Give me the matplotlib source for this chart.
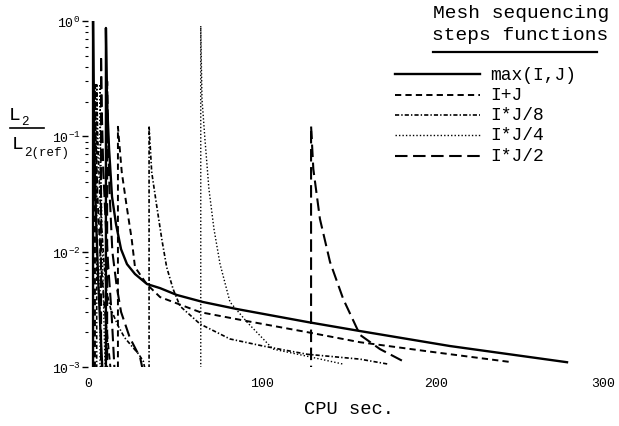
import matplotlib
matplotlib.use('Agg')
import matplotlib.pyplot as plt
from matplotlib.lines import Line2D
from matplotlib.ticker import FixedLocator, FixedFormatter, NullFormatter
import matplotlib.transforms as mtransforms

# ---------------- data (CPU sec, L2/L2(ref)); each series = list of mesh-sequencing segments
maxij_x = [[2.9, 2.9, 3.2, 3.8, 4.6, 5.8, 7.2, 8.5],
           [10.3, 10.3, 10.9, 12.1, 13.8, 16.1, 19.0, 22.4, 27.0, 33.9, 41.4, 51.1,
            66.1, 85.6, 126.4, 156.3, 208.0, 275.3]]
maxij_y = [[8e-4, 1.0, 0.25, 0.06, 0.02, 0.006, 0.002, 8e-4],
           [8e-4, 0.87, 0.21, 0.078, 0.030, 0.0173, 0.0105, 0.0078, 0.0064, 0.00524,
            0.00483, 0.00421, 0.00366, 0.00318, 0.00245, 0.00205, 0.00152, 0.0011]]

ipj_x = [[4.0, 4.0, 4.5, 5.5, 7.0, 9.0, 11.5, 13.5],
         [17.2, 17.2, 19.4, 22.2, 25.1, 27.0, 33.7, 41.4, 64.4, 91.4, 126.4, 156.3,
          194.8, 243.7]]
ipj_y = [[8e-4, 0.28, 0.09, 0.03, 0.01, 0.004, 0.0016, 8e-4],
         [8e-4, 0.121, 0.049, 0.0249, 0.01286, 0.00735, 0.00524, 0.00404, 0.00299,
          0.0025, 0.0020, 0.00164, 0.00137, 0.0011]]

ij8_x = [[5.0, 5.0, 5.6, 6.5, 7.8, 9.2, 10.7, 13.0, 17.4, 21.0, 25.1, 29.0, 31.8, 33.9],
         [35.1, 35.1, 36.6, 39.5, 42.4, 45.2, 48.9, 52.9, 64.4, 81.6, 100.6, 125.9,
          156.3, 172.4]]
ij8_y = [[8e-4, 0.28, 0.10, 0.04, 0.017, 0.008, 0.0045, 0.0032, 0.00226, 0.0018,
          0.00152, 0.0013, 0.00112, 8e-4],
         [8e-4, 0.123, 0.049, 0.0249, 0.01286, 0.00735, 0.00474, 0.00337, 0.00236,
          0.00175, 0.00152, 0.00129, 0.00117, 0.00106]]

ij4_x = [[6.9, 6.9, 7.2, 7.6, 8.0, 8.6, 9.3, 10.0],
         [64.8, 64.8, 65.1, 65.5, 67.2, 69.5, 72.4, 75.9, 81.6, 91.4, 106.3, 125.9, 146.6]]
ij4_y = [[8e-4, 0.284, 0.10, 0.04, 0.015, 0.006, 0.002, 8e-4],
         [8e-4, 0.905, 0.468, 0.211, 0.0948, 0.0349, 0.0157, 0.0078, 0.00366,
          0.00245, 0.00143, 0.00124, 0.00106]]

ij2_x = [[7.5, 7.5, 8.0, 8.8, 10.0, 11.5, 13.5, 15.5],
         [11.0, 11.0, 11.5, 12.5, 14.0, 16.5, 19.0, 24.0, 30.0, 32.5],
         [128.2, 128.2, 129.5, 133.3, 139.1, 146.7, 156.3, 167.8, 182.2]]
ij2_y = [[8e-4, 0.5, 0.15, 0.05, 0.02, 0.008, 0.003, 8e-4],
         [8e-4, 0.30, 0.10, 0.03, 0.01, 0.005, 0.003, 0.0018, 0.0012, 8e-4],
         [8e-4, 0.123, 0.052, 0.0192, 0.00813, 0.00388, 0.0019, 0.00143, 0.0011]]

labels = ['max(I,J)', 'I+J', 'I*J/8', 'I*J/4', 'I*J/2']
x_ticks = [0, 100, 200, 300]
x_ticklabels = ['0', '100', '200', '300']
y_ticks = [1e-3, 1e-2, 1e-1, 1e0]
y_ticklabels = [r'$10^{-3}$', r'$10^{-2}$', r'$10^{-1}$', r'$10^{0}$']

# ---------------- style
plt.rcParams['font.family'] = ['Liberation Mono', 'DejaVu Sans Mono']
plt.rcParams['mathtext.fontset'] = 'custom'
plt.rcParams['mathtext.rm'] = 'Liberation Mono'
plt.rcParams['mathtext.it'] = 'Liberation Mono'
plt.rcParams['lines.scale_dashes'] = False

W, H = 619, 427
fig = plt.figure(figsize=(W / 100, H / 100), dpi=100)
ax = fig.add_axes([88 / W, 1 - 368 / H, (610 - 88) / W, (368 - 22) / H])

styles = [
    dict(color='black', lw=1.7, ls='-'),
    dict(color='black', lw=1.4, ls=(0, (4.5, 3))),
    dict(color='black', lw=1.2, ls=(0, (3, 1.5, 1, 1.5))),
    dict(color='black', lw=1.0, ls=(0, (1, 1.5))),
    dict(color='black', lw=1.5, ls=(0, (9, 4))),
]
series = [(maxij_x, maxij_y), (ipj_x, ipj_y), (ij8_x, ij8_y), (ij4_x, ij4_y), (ij2_x, ij2_y)]

for (xs, ys), st in zip(series, styles):
    for sx, sy in zip(xs, ys):
        ax.plot(sx, sy, **st)

ax.set_yscale('log')
ax.set_xlim(0, 300)
ax.set_ylim(1e-3, 1.0)
for s in ax.spines.values():
    s.set_visible(False)

ax.yaxis.set_major_locator(FixedLocator(y_ticks))
ax.yaxis.set_major_formatter(FixedFormatter(y_ticklabels))
ax.yaxis.set_minor_formatter(NullFormatter())
ax.tick_params(axis='y', which='major', length=4, width=1.0, pad=1.5, labelsize=9.5, direction='out')
ax.tick_params(axis='y', which='minor', length=2, width=0.8, direction='out')
ax.xaxis.set_major_locator(FixedLocator(x_ticks))
ax.xaxis.set_major_formatter(FixedFormatter(x_ticklabels))
ax.tick_params(axis='x', which='both', length=0, pad=7, labelsize=9.5)

# keep the last x label inside the figure (it sits at the right edge)
fig.canvas.draw()
last = ax.get_xticklabels()[-1]
last.set_transform(last.get_transform() + mtransforms.ScaledTranslation(-7 / 100, 0, fig.dpi_scale_trans))

ax.set_xlabel('CPU sec.', fontsize=13.5, labelpad=8)

# y label as a fraction
def fx(px):
    return px / W

def fy(py):
    return 1 - py / H

fig.text(fx(9), fy(120), 'L', fontsize=14, va='baseline', ha='left')
fig.text(fx(21), fy(125), '2', fontsize=9, va='baseline', ha='left')
fig.add_artist(Line2D([fx(10), fx(44)], [fy(129), fy(129)], color='black', lw=1.2))
fig.text(fx(12), fy(149), 'L', fontsize=14, va='baseline', ha='left')
fig.text(fx(24), fy(156), '2(ref)', fontsize=9, va='baseline', ha='left')

# legend drawn by hand
fig.text(fx(521), fy(13), 'Mesh sequencing', fontsize=14, ha='center', va='center')
fig.text(fx(520), fy(36), 'steps functions', fontsize=14, ha='center', va='center')
fig.add_artist(Line2D([fx(433), fx(597)], [fy(53), fy(53)], color='black', lw=1.6))
rows = [75, 96, 116, 136, 157]
for lab, st, py in zip(labels, styles, rows):
    fig.add_artist(Line2D([fx(395), fx(480)], [fy(py), fy(py)], **st))
    fig.text(fx(490), fy(py), lab, fontsize=13, ha='left', va='center')

fig.savefig('out.png', dpi=100)
